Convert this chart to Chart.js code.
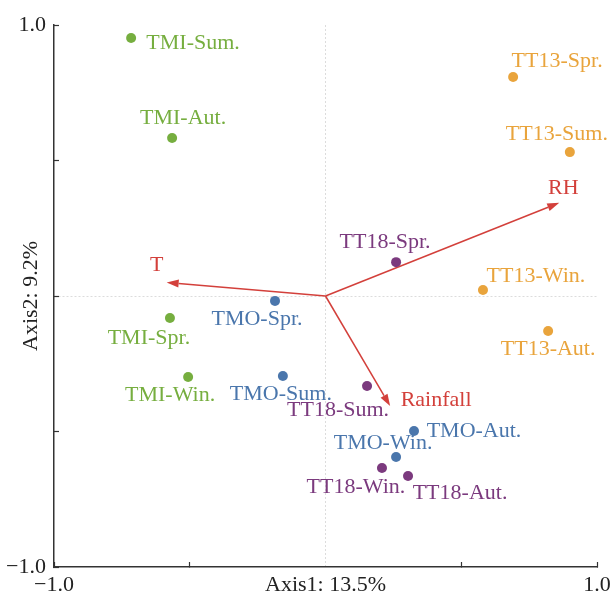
<!DOCTYPE html>
<html>
<head>
<meta charset="utf-8">
<script src="https://cdn.jsdelivr.net/npm/chart.js@4.4.1/dist/chart.umd.min.js"></script>
<style>
  html, body { margin: 0; padding: 0; background: #fff; }
  canvas { display: block; }
</style>
</head>
<body>
<canvas id="biplot" width="616" height="594"></canvas>
<script>
// axis ticks and labels
var axisTicks = [-1, -0.5, 0, 0.5, 1];
var tickLabels = ['\u22121.0', '', '', '', '1.0'];
var xTitle = 'Axis1: 13.5%';
var yTitle = 'Axis2: 9.2%';

// sample scores, season order: Spr., Sum., Aut., Win.
var seasons = ['Spr.', 'Sum.', 'Aut.', 'Win.'];
var groups = ['TMI', 'TMO', 'TT18', 'TT13'];
var tmiX = [-0.573, -0.716, -0.565, -0.506];
var tmiY = [-0.081, 0.952, 0.583, -0.299];
var tmoX = [-0.186, -0.157, 0.326, 0.260];
var tmoY = [-0.018, -0.295, -0.498, -0.594];
var tt18X = [0.260, 0.153, 0.304, 0.208];
var tt18Y = [0.125, -0.332, -0.664, -0.635];
var tt13X = [0.691, 0.900, 0.820, 0.580];
var tt13Y = [0.808, 0.531, -0.129, 0.022];

// environmental vectors
var envNames = ['T', 'RH', 'Rainfall'];
var envX = [-0.585, 0.861, 0.238];
var envY = [0.050, 0.344, -0.406];

var groupColors = ['#76ae3f', '#4a76ac', '#7b3a7e', '#e9a43c'];
var arrowColor = '#d3403b';
var serif = "'Liberation Serif', 'Times New Roman', serif";

// label offsets from the point, in pixels (Spr., Sum., Aut., Win.)
var labelOffsets = [
    [[-21, 20], [62, 5], [11, -20], [-18, 18]],
    [[-18, 18], [-2, 18], [60, 0], [-13, -14]],
    [[-11, -20], [-29, 24], [52, 17], [-26, 19]],
    [[44, -16], [-13, -18], [0, 18], [53, -14]]
];
var envOffsets = [[-10, -17], [4, -15], [46, -6]];

var xs = [tmiX, tmoX, tt18X, tt13X];
var ys = [tmiY, tmoY, tt18Y, tt13Y];

var datasets = groups.map(function (g, gi) {
    return {
        label: g,
        data: xs[gi].map(function (x, i) { return { x: x, y: ys[gi][i] }; }),
        backgroundColor: groupColors[gi],
        borderWidth: 0,
        pointRadius: 5,
        pointHoverRadius: 5
    };
});

var biplotPlugin = {
    id: 'biplot',
    beforeDatasetsDraw: function (chart) {
        var ctx = chart.ctx;
        var sx = chart.scales.x, sy = chart.scales.y;
        var ox = sx.getPixelForValue(0), oy = sy.getPixelForValue(0);
        ctx.save();
        ctx.strokeStyle = arrowColor;
        ctx.fillStyle = arrowColor;
        ctx.lineWidth = 1.5;
        for (var i = 0; i < envNames.length; i++) {
            var tx = sx.getPixelForValue(envX[i]), ty = sy.getPixelForValue(envY[i]);
            var ang = Math.atan2(ty - oy, tx - ox);
            var headLen = 12, headW = 4;
            var bx = tx - headLen * Math.cos(ang), by = ty - headLen * Math.sin(ang);
            ctx.beginPath();
            ctx.moveTo(ox, oy);
            ctx.lineTo(bx, by);
            ctx.stroke();
            ctx.beginPath();
            ctx.moveTo(tx, ty);
            ctx.lineTo(bx + headW * Math.sin(ang), by - headW * Math.cos(ang));
            ctx.lineTo(bx - headW * Math.sin(ang), by + headW * Math.cos(ang));
            ctx.closePath();
            ctx.fill();
        }
        ctx.restore();
    },
    afterDatasetsDraw: function (chart) {
        var ctx = chart.ctx;
        var sx = chart.scales.x, sy = chart.scales.y;
        ctx.save();
        ctx.font = '22px ' + serif;
        ctx.textAlign = 'center';
        ctx.textBaseline = 'middle';
        groups.forEach(function (g, gi) {
            ctx.fillStyle = groupColors[gi];
            seasons.forEach(function (s, i) {
                var px = sx.getPixelForValue(xs[gi][i]);
                var py = sy.getPixelForValue(ys[gi][i]);
                ctx.fillText(g + '-' + s, px + labelOffsets[gi][i][0], py + labelOffsets[gi][i][1]);
            });
        });
        ctx.fillStyle = arrowColor;
        envNames.forEach(function (n, i) {
            var px = sx.getPixelForValue(envX[i]);
            var py = sy.getPixelForValue(envY[i]);
            ctx.fillText(n, px + envOffsets[i][0], py + envOffsets[i][1]);
        });
        ctx.restore();
    }
};

function isZero(v) { return Math.abs(v) < 1e-9; }

var tickFont = { family: serif, size: 22 };

var chart = new Chart(document.getElementById('biplot'), {
    type: 'scatter',
    data: { datasets: datasets },
    plugins: [biplotPlugin],
    options: {
        responsive: false,
        animation: false,
        layout: { padding: { top: 25, right: 19, left: 0, bottom: 0 } },
        plugins: {
            legend: { display: false },
            tooltip: { enabled: false }
        },
        scales: {
            x: {
                type: 'linear',
                position: 'bottom',
                min: -1,
                max: 1,
                afterBuildTicks: function (s) { s.ticks = axisTicks.map(function (v) { return { value: v }; }); },
                afterFit: function (s) {
                    s.height = 27;
                    s.paddingLeft = 0;
                    s.paddingRight = 0;
                },
                ticks: {
                    autoSkip: false,
                    maxRotation: 0,
                    padding: 10,
                    color: '#222',
                    font: tickFont,
                    callback: function (v, i) { return tickLabels[i]; }
                },
                grid: {
                    color: function (c) { return c.tick && isZero(c.tick.value) ? '#dcdcdc' : 'transparent'; },
                    tickColor: function (c) { return c.tick && isZero(c.tick.value) ? 'transparent' : '#333'; },
                    tickLength: -5,
                    tickWidth: 1.2,
                    lineWidth: 1
                },
                border: { color: '#333', width: 1.5, dash: [2, 2] },
                title: {
                    display: true,
                    text: xTitle,
                    color: '#222',
                    font: tickFont,
                    padding: { top: 0, bottom: -4 }
                }
            },
            y: {
                type: 'linear',
                position: 'left',
                min: -1,
                max: 1,
                afterBuildTicks: function (s) { s.ticks = axisTicks.map(function (v) { return { value: v }; }); },
                afterFit: function (s) {
                    s.width = 54;
                    s.paddingTop = 0;
                    s.paddingBottom = 0;
                },
                ticks: {
                    autoSkip: false,
                    padding: 13,
                    color: '#222',
                    font: tickFont,
                    callback: function (v, i) { return tickLabels[i]; }
                },
                grid: {
                    color: function (c) { return c.tick && isZero(c.tick.value) ? '#dcdcdc' : 'transparent'; },
                    tickColor: '#333',
                    tickLength: -5,
                    tickWidth: 1.2,
                    lineWidth: 1
                },
                border: { color: '#333', width: 1.5, dash: [2, 2] },
                title: {
                    display: true,
                    text: yTitle,
                    color: '#222',
                    font: tickFont,
                    padding: { top: 18, bottom: 0 }
                }
            }
        }
    }
});
</script>
</body>
</html>
